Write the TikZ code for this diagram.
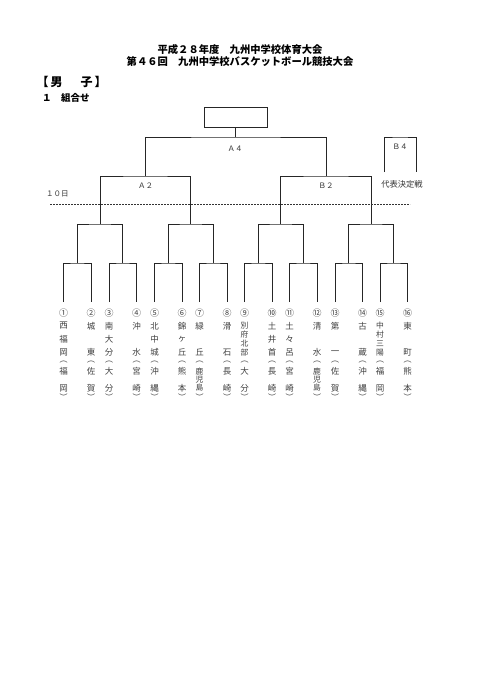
\documentclass[tikz,border=0pt]{standalone}
\usepackage{fontspec}
\setmainfont{Noto Sans CJK JP}
\newcommand\colstack[5]{%
  \gdef\cnt{0}%
  \foreach \c in {#5}{\xdef\cnt{\the\numexpr\cnt+1\relax}}%
  \ifnum\cnt=1 \def\stp{0}\else\pgfmathsetmacro\stp{(#4-#3)/(\cnt-1)}\fi
  \ifdim\stp pt<10pt \def\lfnt{\fontsize{7.8}{7.8}\selectfont}\else\def\lfnt{\fontsize{8.5}{8.5}\selectfont}\fi
  \foreach \c [count=\k] in {#5}{\node[leaf,font=\lfnt] (#1-\k) at (#2,{#3+(\k-1)*\stp}) {\c};}%
}
\newcommand\team[5]{%
  \node[leaf,font=\fontsize{9}{9}\selectfont] (n#1) at (#2,313) {#3};
  \coordinate (e#1) at (#2,302);
  \colstack{nm#1}{#2}{326}{352.5}{#4}
  \node[leaf] (po#1) at (#2,362.5) {︵};
  \colstack{pf#1}{#2}{371.5}{388}{#5}
  \node[leaf] (pc#1) at (#2,397.5) {︶};
}
\begin{document}
\begin{tikzpicture}[x=1pt,y=-1pt,
  line/.style={draw=black!85,line width=0.8pt},
  lab/.style={font=\fontsize{7.5}{8}\selectfont,text=black!80,inner sep=0pt},
  leaf/.style={font=\fontsize{8}{8}\selectfont,text=black!75,inner sep=0pt},
  ttl/.style={font=\fontsize{10.3}{11}\selectfont\bfseries,inner sep=0pt}]
\fill[white] (0,0) rectangle (481,680);
\useasboundingbox (0,0) rectangle (481,680);
% titles
\node[ttl] (t1) at (240,49.5) {平成２８年度　九州中学校体育大会};
\node[ttl] (t2) at (240,61.5) {第４６回　九州中学校バスケットボール競技大会};
\node[font=\fontsize{12}{12}\selectfont\bfseries,anchor=west,inner sep=0pt] (sex) at (36.5,82) {【\kern2pt 男\hspace{18pt}子\kern2pt 】};
\node[font=\fontsize{9.5}{10}\selectfont\bfseries,anchor=west,inner sep=0pt] (sub) at (42,98) {１　組合せ};
% teams
\team{1}{63.5}{①}{西,福,岡}{福,岡}
\team{2}{91}{②}{城,東}{佐,賀}
\team{3}{109}{③}{南,大,分}{大,分}
\team{4}{136.5}{④}{沖,水}{宮,崎}
\team{5}{154.5}{⑤}{北,中,城}{沖,縄}
\team{6}{182}{⑥}{錦,ヶ,丘}{熊,本}
\team{7}{199.5}{⑦}{緑,丘}{鹿,児,島}
\team{8}{227}{⑧}{滑,石}{長,崎}
\team{9}{244.5}{⑨}{別,府,北,部}{大,分}
\team{10}{272}{⑩}{土,井,首}{長,崎}
\team{11}{289.5}{⑪}{土,々,呂}{宮,崎}
\team{12}{317}{⑫}{清,水}{鹿,児,島}
\team{13}{335}{⑬}{第,一}{佐,賀}
\team{14}{362.5}{⑭}{古,蔵}{沖,縄}
\team{15}{380}{⑮}{中,村,三,陽}{福,岡}
\team{16}{407.5}{⑯}{東,町}{熊,本}
% junctions
\coordinate (p1) at (77.25,263);
\coordinate (p2) at (122.75,263);
\coordinate (p3) at (168.25,263);
\coordinate (p4) at (213.25,263);
\coordinate (p5) at (258.25,263);
\coordinate (p6) at (303.25,263);
\coordinate (p7) at (348.75,263);
\coordinate (p8) at (393.75,263);
\coordinate (q1) at (100,224);
\coordinate (q2) at (190.75,224);
\coordinate (q3) at (280.75,224);
\coordinate (q4) at (371.25,224);
\coordinate (r1) at (145.4,176);
\coordinate (r2) at (326,176);
\coordinate (s) at (235.7,137);
\node[draw=black!85,line width=0.8pt,minimum width=63pt,minimum height=19.5pt,inner sep=0pt] (champ) at (235.7,117.5) {};
% tree
\foreach \k in {1,...,8}{
  \pgfmathtruncatemacro\a{2*\k-1}
  \pgfmathtruncatemacro\b{2*\k}
  \draw[line] (e\a) |- (p\k) -| (e\b);
}
\draw[line] (p1) |- (q1) -| (p2);
\draw[line] (p3) |- (q2) -| (p4);
\draw[line] (p5) |- (q3) -| (p6);
\draw[line] (p7) |- (q4) -| (p8);
\draw[line] (q1) |- (r1) -| (q2);
\draw[line] (q3) |- (r2) -| (q4);
\draw[line] (r1) |- (s) -| (r2);
\draw[line] (s) -- (champ.south);
% B4
\coordinate (b4a) at (384,172);
\coordinate (b4b) at (416,172);
\coordinate (b4t) at (400,137);
\draw[line] (b4a) |- (b4t) -| (b4b);
% labels
\node[lab] (la4) at (235,148.5) {Ａ４};
\node[lab] (la2) at (145.5,186) {Ａ２};
\node[lab] (lb2) at (326,186) {Ｂ２};
\node[lab] (lb4) at (400,147) {Ｂ４};
\node[lab,font=\fontsize{8.3}{9}\selectfont] (ldf) at (402,184) {代表決定戦};
\node[lab,anchor=west] (l10) at (46,193.5) {１０日};
% dashed line
\coordinate (dl) at (50,204.5);
\coordinate (dr) at (410,204.5);
\draw[black!80,line width=0.7pt,dash pattern=on 1.8pt off 1.2pt] (dl) -- (dr);
\end{tikzpicture}
\end{document}
